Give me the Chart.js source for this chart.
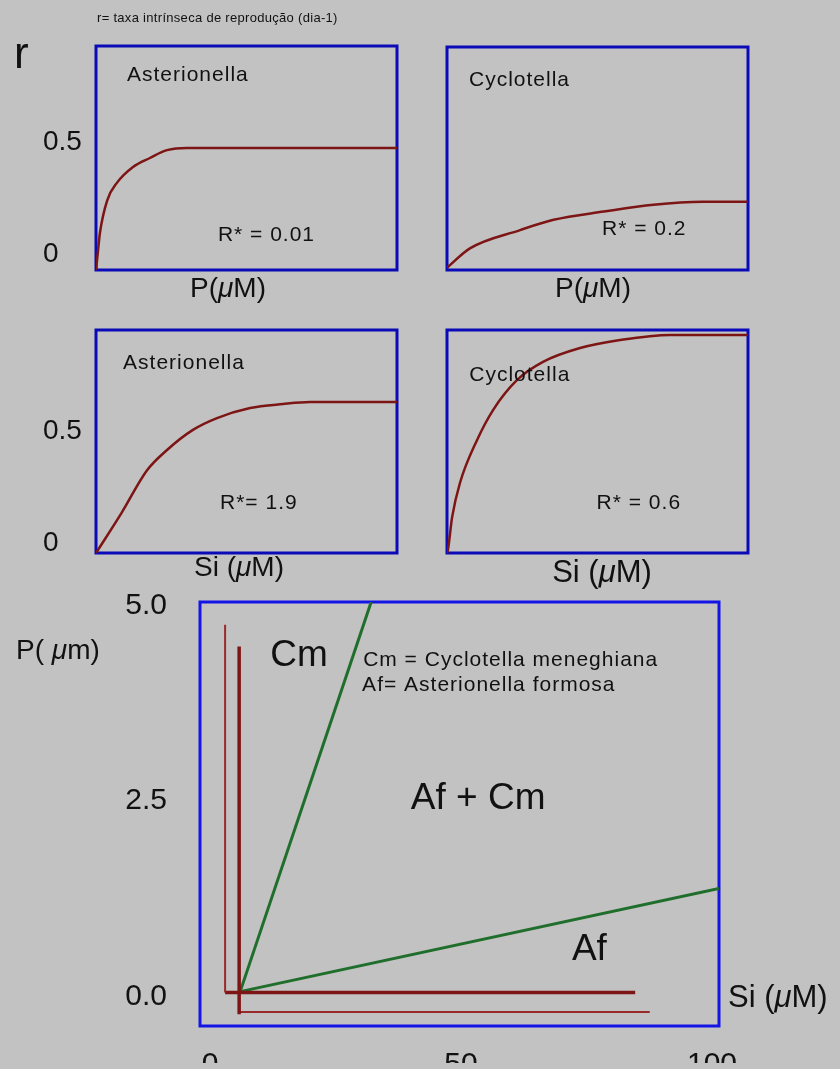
<!DOCTYPE html>
<html>
<head>
<meta charset="utf-8">
<script src="https://cdn.jsdelivr.net/npm/chart.js@4.4.1/dist/chart.umd.min.js"></script>
<style>
  body { margin: 0; background: #c2c2c2; width: 840px; height: 1069px; overflow: hidden; position: relative;
         font-family: "Liberation Sans", Arial, sans-serif; color: #111; }
  canvas { position: absolute; left: 0; top: 0; }
  .t { position: absolute; white-space: nowrap; line-height: 1; }
  .c { transform: translateX(-50%); }
</style>
</head>
<body>
<canvas id="pAst" width="840" height="1069"></canvas>
<canvas id="pCyc" width="840" height="1069"></canvas>
<canvas id="siAst" width="840" height="1069"></canvas>
<canvas id="siCyc" width="840" height="1069"></canvas>
<canvas id="zngi" width="840" height="1069"></canvas>

<div class="t" style="left:97px;top:11px;font-size:13px;letter-spacing:0.3px">r= taxa intrínseca de reprodução (dia-1)</div>
<div class="t" style="left:14px;top:31px;font-size:44px">r</div>
<div class="t c" style="left:228px;top:274px;font-size:28px">P(<i>μ</i>M)</div>
<div class="t c" style="left:593px;top:274px;font-size:28px">P(<i>μ</i>M)</div>
<div class="t c" style="left:239px;top:553px;font-size:28px">Si (<i>μ</i>M)</div>
<div class="t c" style="left:602px;top:556px;font-size:31px">Si (<i>μ</i>M)</div>
<div class="t" style="left:16px;top:636px;font-size:28px">P( <i>μ</i>m)</div>
<div class="t" style="left:728px;top:981px;font-size:31px">Si (<i>μ</i>M)</div>

<script>
// growth curves: x = nutrient (0-100 across panel), y = r (dia-1)
const astPX = [0, 0.7, 1.3, 3.7, 7.0, 12.3, 17.9, 23.6, 30.2, 100];
const astPR = [0, 0.09, 0.165, 0.31, 0.39, 0.46, 0.50, 0.535, 0.545, 0.545];
const cycPX = [0, 7.6, 24.3, 35.4, 52.1, 68.6, 85, 100];
const cycPR = [0.01, 0.097, 0.179, 0.225, 0.262, 0.293, 0.306, 0.306];
const astSiX = [0, 8.5, 16.9, 23.6, 32.2, 40.2, 51.2, 62.1, 71.1, 100];
const astSiR = [0, 0.18, 0.37, 0.462, 0.552, 0.605, 0.650, 0.668, 0.677, 0.677];
const cycSiX = [0, 0.3, 1.7, 4.3, 10.0, 15.3, 23.3, 31.9, 44.2, 57.5, 74.1, 100];
const cycSiR = [0, 0.013, 0.161, 0.314, 0.507, 0.641, 0.776, 0.857, 0.919, 0.955, 0.978, 0.978];
const rTicks = [0, 0.5];

// resource plane: Si (uM) vs P (uM)
const cmVert = [[3.0, 4.76], [3.0, 0.05]];
const cmHoriz = [[3.0, 0.05], [84.7, 0.05]];
const afVert = [[5.8, 4.48], [5.8, -0.23]];
const afHoriz = [[5.8, -0.2], [87.6, -0.2]];
const cmSlope = [[6.0, 0.06], [32.1, 5.05]];
const afSlope = [[6.0, 0.06], [101.4, 1.38]];
const siTicks = [0, 50, 100];
const pTicks = [0, 2.5, 5];

const RED = "#7d1515";
const THIN_RED = "#9a2a2a";
const GREEN = "#1f6e2b";
const FONT = '"Liberation Sans", Arial, sans-serif';

const pts = (xs, ys) => xs.map((x, i) => ({ x: x, y: ys[i] }));
const pairs = arr => arr.map(p => ({ x: p[0], y: p[1] }));

//Frame plugin
function frame(color) {
  return {
    id: "frame",
    beforeDatasetsDraw(chart) {
      const { ctx, chartArea: a } = chart;
      ctx.save();
      ctx.strokeStyle = color;
      ctx.lineWidth = 3;
      ctx.strokeRect(a.left, a.top, a.right - a.left, a.bottom - a.top);
      ctx.restore();
    },
  };
}

//Notes plugin, positions in data units
function notes(list) {
  return {
    id: "notes",
    afterDraw(chart) {
      const { ctx, scales: { x, y } } = chart;
      ctx.save();
      ctx.fillStyle = "#111";
      ctx.textAlign = "left";
      ctx.textBaseline = "alphabetic";
      list.forEach(n => {
        ctx.font = n.size + "px " + FONT;
        ctx.letterSpacing = (n.spacing || 0) + "px";
        ctx.fillText(n.text, x.getPixelForValue(n.x), y.getPixelForValue(n.y));
      });
      ctx.restore();
    },
  };
}

function smallPanel(id, data, area, showY, labelOffset, list) {
  return new Chart(document.getElementById(id), {
    type: "line",
    data: {
      datasets: [{
        data: data,
        borderColor: RED,
        borderWidth: 2.5,
        pointRadius: 0,
        cubicInterpolationMode: "monotone",
      }],
    },
    options: {
      responsive: false,
      animation: false,
      devicePixelRatio: 1,
      layout: { padding: { left: 43, top: area.top, right: 840 - area.right, bottom: 1069 - area.bottom } },
      plugins: { legend: { display: false }, tooltip: { enabled: false } },
      scales: {
        x: { type: "linear", min: 0, max: 100, display: false },
        y: {
          type: "linear", min: 0, max: 1,
          grid: { display: false }, border: { display: false },
          afterBuildTicks: s => { s.ticks = rTicks.map(v => ({ value: v })); },
          afterFit: s => { s.width = area.left - 43; },
          ticks: {
            display: showY,
            crossAlign: "far", labelOffset: labelOffset, color: "#111",
            font: { size: 28, family: FONT }, callback: v => String(v),
          },
        },
      },
    },
    plugins: [frame("#0a0ab8"), notes(list)],
  });
}

smallPanel("pAst", pts(astPX, astPR), { left: 96, right: 397, top: 46, bottom: 270 }, true, -16, [
  { text: "Asterionella", x: 10.3, y: 0.844, size: 21, spacing: 1 },
  { text: "R* = 0.01", x: 40.5, y: 0.129, size: 21, spacing: 1 },
]);
smallPanel("pCyc", pts(cycPX, cycPR), { left: 447, right: 748, top: 47, bottom: 270 }, false, 0, [
  { text: "Cyclotella", x: 7.3, y: 0.825, size: 21, spacing: 1 },
  { text: "R* = 0.2", x: 51.5, y: 0.157, size: 21, spacing: 1 },
]);
smallPanel("siAst", pts(astSiX, astSiR), { left: 96, right: 397, top: 330, bottom: 553 }, true, -10, [
  { text: "Asterionella", x: 9.0, y: 0.825, size: 21, spacing: 1 },
  { text: "R*= 1.9", x: 41.2, y: 0.197, size: 21, spacing: 1 },
]);
smallPanel("siCyc", pts(cycSiX, cycSiR), { left: 447, right: 748, top: 330, bottom: 553 }, false, 0, [
  { text: "Cyclotella", x: 7.4, y: 0.771, size: 21, spacing: 1 },
  { text: "R* = 0.6", x: 49.7, y: 0.197, size: 21, spacing: 1 },
]);

const seg = (d, color, width) => ({
  data: pairs(d), borderColor: color, borderWidth: width, pointRadius: 0, tension: 0,
});

new Chart(document.getElementById("zngi"), {
  type: "line",
  data: {
    datasets: [
      seg(cmVert, THIN_RED, 2),
      seg(cmHoriz, RED, 3.5),
      seg(afVert, RED, 3.5),
      seg(afHoriz, THIN_RED, 2),
      seg(cmSlope, GREEN, 3),
      seg(afSlope, GREEN, 3),
    ],
  },
  options: {
    responsive: false,
    animation: false,
    devicePixelRatio: 1,
    layout: { padding: { left: 100, top: 602, right: 840 - 719, bottom: 0 } },
    plugins: { legend: { display: false }, tooltip: { enabled: false } },
    scales: {
      x: {
        type: "linear", min: -2, max: 101.4,
        grid: { display: false }, border: { display: false },
        afterBuildTicks: s => { s.ticks = siTicks.map(v => ({ value: v })); },
        afterFit: s => { s.height = 37; },
        ticks: { padding: 13, color: "#111", maxRotation: 0, font: { size: 30, family: FONT } },
      },
      y: {
        type: "linear", min: -0.38, max: 5.05,
        grid: { display: false }, border: { display: false },
        afterBuildTicks: s => { s.ticks = pTicks.map(v => ({ value: v })); },
        afterFit: s => { s.width = 100; },
        ticks: { padding: 25, color: "#111", font: { size: 30, family: FONT }, callback: v => v.toFixed(1) },
      },
    },
  },
  plugins: [frame("#1414e6"), notes([
    { text: "Cm", x: 12.0, y: 4.23, size: 37 },
    { text: "Cm = Cyclotella meneghiana", x: 30.5, y: 4.23, size: 21, spacing: 1 },
    { text: "Af= Asterionella formosa", x: 30.3, y: 3.91, size: 21, spacing: 1 },
    { text: "Af + Cm", x: 40.0, y: 2.40, size: 37 },
    { text: "Af", x: 72.1, y: 0.467, size: 37 },
  ])],
});
</script>
</body>
</html>
